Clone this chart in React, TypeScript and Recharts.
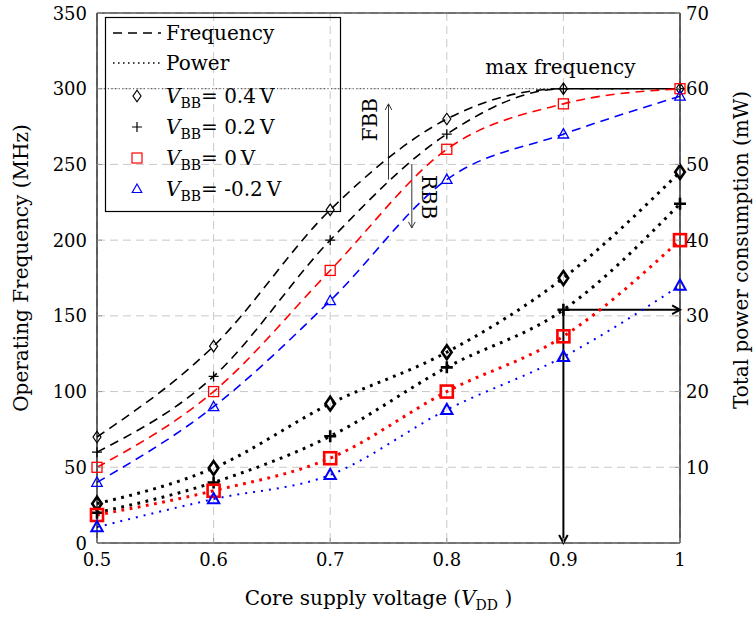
import React from 'react'
import {
  ComposedChart,
  Line,
  XAxis,
  YAxis,
  CartesianGrid,
  ReferenceLine,
  Legend,
} from 'recharts'

// supply voltage (V) and series
const voltages = [0.5, 0.6, 0.7, 0.8, 0.9, 1.0]
const freq04 = [70, 130, 220, 280, 300, 300]
const freq02 = [60, 110, 200, 270, 300, 300]
const freq00 = [50, 100, 180, 260, 290, 300]
const freqM02 = [40, 90, 160, 240, 270, 295]
const power04 = [5.2, 9.9, 18.4, 25.2, 35, 49]
const power02 = [4.0, 8.0, 14.1, 23.2, 30.8, 44.8]
const power00 = [3.7, 6.9, 11.2, 20, 27.3, 40]
const powerM02 = [2.1, 5.8, 9.0, 17.6, 24.6, 34]

const xTicks = [0.5, 0.6, 0.7, 0.8, 0.9, 1]
const freqTicks = [0, 50, 100, 150, 200, 250, 300, 350]
const powerTicks = [10, 20, 30, 40, 50, 60, 70]
const maxFreq = 300
const opVoltage = 0.9
const opPower = 30.8

const data = voltages.map((v, i) => ({
  v,
  f04: freq04[i],
  f02: freq02[i],
  f00: freq00[i],
  fm02: freqM02[i],
  p04: power04[i],
  p02: power02[i],
  p00: power00[i],
  pm02: powerM02[i],
}))

const FONT = '"DejaVu Serif", serif'
const RED = '#ff0000'
const BLUE = '#0000ff'

type Kind = 'diamond' | 'plus' | 'square' | 'triangle'

function Mark({ kind, cx, cy, color, r, sw }: { kind: Kind; cx: number; cy: number; color: string; r: number; sw: number }) {
  if (kind === 'diamond')
    return (
      <path
        d={`M${cx},${cy - r * 1.15} L${cx + r * 0.8},${cy} L${cx},${cy + r * 1.15} L${cx - r * 0.8},${cy} Z`}
        fill="none"
        stroke={color}
        strokeWidth={sw}
      />
    )
  if (kind === 'plus')
    return (
      <path d={`M${cx - r},${cy} H${cx + r} M${cx},${cy - r} V${cy + r}`} stroke={color} strokeWidth={sw} fill="none" />
    )
  if (kind === 'square')
    return <rect x={cx - r} y={cy - r} width={2 * r} height={2 * r} fill="none" stroke={color} strokeWidth={sw} />
  return (
    <path
      d={`M${cx},${cy - r} L${cx + r * 0.95},${cy + r * 0.7} L${cx - r * 0.95},${cy + r * 0.7} Z`}
      fill="none"
      stroke={color}
      strokeWidth={sw}
    />
  )
}

const dotOf = (kind: Kind, color: string, r: number, sw: number) => (p: any) => {
  if (p.cx == null || p.cy == null) return <g key={`${kind}-${p.index}`} />
  return <Mark key={`${kind}-${p.index}`} kind={kind} cx={p.cx} cy={p.cy} color={color} r={r} sw={sw} />
}

function Arrow(props: any) {
  const { x1, y1, x2, y2, stroke = '#000', strokeWidth = 1, text, tdx = 0, tdy = 0, rot = 0, head = 7 } = props
  const a = Math.atan2(y2 - y1, x2 - x1)
  const s = 0.5
  const hx1 = x2 - head * Math.cos(a - s)
  const hy1 = y2 - head * Math.sin(a - s)
  const hx2 = x2 - head * Math.cos(a + s)
  const hy2 = y2 - head * Math.sin(a + s)
  const mx = (x1 + x2) / 2 + tdx
  const my = (y1 + y2) / 2 + tdy
  return (
    <g>
      <line x1={x1} y1={y1} x2={x2} y2={y2} stroke={stroke} strokeWidth={strokeWidth} />
      <path d={`M${hx1},${hy1} L${x2},${y2} L${hx2},${hy2}`} fill="none" stroke={stroke} strokeWidth={strokeWidth} />
      {text && (
        <text
          x={mx}
          y={my}
          transform={`rotate(${rot} ${mx} ${my})`}
          textAnchor="middle"
          dominantBaseline="central"
          fontFamily={FONT}
          fontSize={20}
          fill="#000"
        >
          {text}
        </text>
      )}
    </g>
  )
}

const XTick = ({ x, y, payload }: any) => (
  <g>
    <line x1={x} y1={y} x2={x} y2={y - 5} stroke="#999" />
    <text x={x} y={y + 23} textAnchor="middle" fontFamily={FONT} fontSize={18} fill="#000">
      {payload.value === 1 ? '1' : String(payload.value)}
    </text>
  </g>
)

const LeftTick = ({ x, y, payload }: any) => (
  <g>
    <line x1={x} y1={y} x2={x + 5} y2={y} stroke="#999" />
    <text x={x - 10} y={y + 6.5} textAnchor="end" fontFamily={FONT} fontSize={18} fill="#000">
      {payload.value}
    </text>
  </g>
)

const RightTick = ({ x, y, payload }: any) => (
  <g>
    <line x1={x} y1={y} x2={x - 5} y2={y} stroke="#999" />
    <text x={x + 6} y={y + 6.5} textAnchor="start" fontFamily={FONT} fontSize={18} fill="#000">
      {payload.value}
    </text>
  </g>
)

const VBB = ({ x, y, v }: { x: number; y: number; v: string }) => (
  <text x={x} y={y} fontFamily={FONT} fontSize={20} fill="#000">
    <tspan fontStyle="italic">V</tspan>
    <tspan fontSize={14} dy={5}>BB</tspan>
    <tspan dy={-5}>{`= ${v}\u2009V`}</tspan>
  </text>
)

const legendRows: { kind: Kind; color: string; v: string }[] = [
  { kind: 'diamond', color: '#000', v: '0.4' },
  { kind: 'plus', color: '#000', v: '0.2' },
  { kind: 'square', color: RED, v: '0' },
  { kind: 'triangle', color: BLUE, v: '-0.2' },
]

const LegendBox = () => (
  <svg width={236} height={195} style={{ display: 'block', overflow: 'visible' }}>
    <rect x={0.5} y={0.5} width={235} height={194} fill="none" stroke="#000" strokeWidth={1.2} />
    <line x1={8} y1={16} x2={56} y2={16} stroke="#000" strokeWidth={1.6} strokeDasharray="9 6" />
    <text x={61} y={23} fontFamily={FONT} fontSize={20} fill="#000">Frequency</text>
    <line x1={8} y1={46} x2={56} y2={46} stroke="#000" strokeWidth={1.6} strokeDasharray="1.5 3.5" />
    <text x={61} y={53} fontFamily={FONT} fontSize={20} fill="#000">Power</text>
    {legendRows.map((r, i) => (
      <g key={r.v}>
        <Mark kind={r.kind} cx={32} cy={79 + i * 31} color={r.color} r={5} sw={1.2} />
        <VBB x={61} y={86 + i * 31} v={r.v} />
      </g>
    ))}
  </svg>
)

export default function App() {
  return (
    <div style={{ position: 'absolute', left: 0, top: 0, background: '#fff' }}>
      <ComposedChart
        width={754}
        height={618}
        data={data}
        margin={{ top: 13, right: 14, left: 37, bottom: 35 }}
      >
        <CartesianGrid yAxisId="left" stroke="#c8c8c8" strokeDasharray="8 5" />
        <XAxis
          dataKey="v"
          type="number"
          domain={[0.5, 1]}
          ticks={xTicks}
          interval={0}
          height={40}
          tickSize={0}
          tickMargin={0}
          tick={XTick}
          axisLine={{ stroke: '#000', strokeWidth: 1.2 }}
          label={(p: any) => {
            const vb = p.viewBox
            const cx = vb.x + vb.width / 2 - 10
            return (
              <text x={cx} y={vb.y + 62} textAnchor="middle" fontFamily={FONT} fontSize={20} fill="#000">
                Core supply voltage (<tspan fontStyle="italic">V</tspan>
                <tspan fontSize={14} dy={5}>DD</tspan>
                <tspan dy={-5}>{' )'}</tspan>
              </text>
            )
          }}
        />
        <YAxis
          yAxisId="left"
          domain={[0, 350]}
          ticks={freqTicks}
          interval={0}
          width={60}
          tickSize={0}
          tickMargin={0}
          tick={LeftTick}
          axisLine={{ stroke: '#000', strokeWidth: 1.2 }}
          label={(p: any) => {
            const vb = p.viewBox
            const x = vb.x - 16
            const y = vb.y + vb.height / 2 - 10
            return (
              <text
                x={x}
                y={y}
                transform={`rotate(-90 ${x} ${y})`}
                textAnchor="middle"
                dominantBaseline="central"
                fontFamily={FONT}
                fontSize={20}
                fill="#000"
              >
                Operating Frequency (MHz)
              </text>
            )
          }}
        />
        <YAxis
          yAxisId="right"
          orientation="right"
          domain={[0, 70]}
          ticks={powerTicks}
          interval={0}
          width={60}
          tickSize={0}
          tickMargin={0}
          tick={RightTick}
          axisLine={{ stroke: '#000', strokeWidth: 1.2 }}
          label={(p: any) => {
            const vb = p.viewBox
            const x = vb.x + 61
            const y = vb.y + vb.height / 2 - 28
            return (
              <text
                x={x}
                y={y}
                transform={`rotate(-90 ${x} ${y})`}
                textAnchor="middle"
                dominantBaseline="central"
                fontFamily={FONT}
                fontSize={20}
                fill="#000"
              >
                Total power consumption (mW)
              </text>
            )
          }}
        />
        <ReferenceLine yAxisId="left" y={350} stroke="#000" strokeWidth={1.2} />
        <ReferenceLine
          yAxisId="left"
          y={maxFreq}
          stroke="#444"
          strokeWidth={1}
          strokeDasharray="1.2 2.4"
          label={(p: any) => {
            const vb = p.viewBox
            return (
              <text
                x={vb.x + vb.width * 0.795}
                y={vb.y - 15}
                textAnchor="middle"
                fontFamily={FONT}
                fontSize={20}
                fill="#000"
              >
                max frequency
              </text>
            )
          }}
        />
        <ReferenceLine
          yAxisId="left"
          segment={[{ x: 0.75, y: 240 }, { x: 0.75, y: 290 }]}
          stroke="#333"
          shape={(p: any) => <Arrow {...p} stroke="#333" strokeWidth={1} text="FBB" tdx={-18} tdy={-22} rot={-90} />}
        />
        <ReferenceLine
          yAxisId="left"
          segment={[{ x: 0.77, y: 250 }, { x: 0.77, y: 208 }]}
          stroke="#333"
          shape={(p: any) => <Arrow {...p} stroke="#333" strokeWidth={1} text="RBB" tdx={17} tdy={1} rot={90} />}
        />
        <ReferenceLine
          yAxisId="right"
          segment={[{ x: opVoltage, y: opPower }, { x: opVoltage, y: 0 }]}
          shape={(p: any) => <Arrow {...p} stroke="#000" strokeWidth={2} head={9} />}
        />
        <ReferenceLine
          yAxisId="right"
          segment={[{ x: opVoltage, y: opPower }, { x: 1, y: opPower }]}
          shape={(p: any) => <Arrow {...p} stroke="#000" strokeWidth={2} head={9} />}
        />

        <Line yAxisId="left" type="monotone" dataKey="f04" stroke="#000" strokeWidth={1.6} strokeDasharray="9 6" dot={dotOf('diamond', '#000', 5, 1.2)} activeDot={false} isAnimationActive={false} />
        <Line yAxisId="left" type="monotone" dataKey="f02" stroke="#000" strokeWidth={1.6} strokeDasharray="9 6" dot={dotOf('plus', '#000', 5, 1.3)} activeDot={false} isAnimationActive={false} />
        <Line yAxisId="left" type="monotone" dataKey="f00" stroke={RED} strokeWidth={1.6} strokeDasharray="9 6" dot={dotOf('square', RED, 5, 1.3)} activeDot={false} isAnimationActive={false} />
        <Line yAxisId="left" type="monotone" dataKey="fm02" stroke={BLUE} strokeWidth={1.6} strokeDasharray="9 6" dot={dotOf('triangle', BLUE, 5.5, 1.3)} activeDot={false} isAnimationActive={false} />

        <Line yAxisId="right" type="monotone" dataKey="p04" stroke="#000" strokeWidth={3} strokeDasharray="2.8 5.5" dot={dotOf('diamond', '#000', 6, 2.6)} activeDot={false} isAnimationActive={false} />
        <Line yAxisId="right" type="monotone" dataKey="p02" stroke="#000" strokeWidth={3} strokeDasharray="2.8 5.5" dot={dotOf('plus', '#000', 6, 2.6)} activeDot={false} isAnimationActive={false} />
        <Line yAxisId="right" type="monotone" dataKey="p00" stroke={RED} strokeWidth={3} strokeDasharray="2.8 5.5" dot={dotOf('square', RED, 6, 2.6)} activeDot={false} isAnimationActive={false} />
        <Line yAxisId="right" type="monotone" dataKey="pm02" stroke={BLUE} strokeWidth={2} strokeDasharray="2 6" dot={dotOf('triangle', BLUE, 6, 2)} activeDot={false} isAnimationActive={false} />

        <Legend
          layout="horizontal"
          verticalAlign="middle"
          align="center"
          content={LegendBox}
          wrapperStyle={{ position: 'absolute', left: 105, top: 17, width: 236, height: 195 }}
        />
      </ComposedChart>
    </div>
  )
}
